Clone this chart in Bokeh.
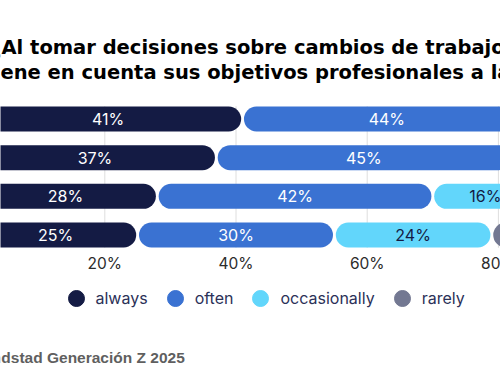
from bokeh.plotting import figure
from bokeh.models import Range1d, Label, Legend, LegendItem, ColumnDataSource
from bokeh.core.properties import value
from bokeh.embed import file_html
from bokeh.resources import INLINE

# ---- data ----
groups = ["Gen Z", "Millennials", "Gen X", "Baby boomers"]
series = ["always", "often", "occasionally", "rarely"]
always = [41, 37, 28, 25]
often = [44, 45, 42, 30]
occasionally = [11, 13, 16, 24]
rarely = [4, 5, 14, 21]
tick_values = [20, 40, 60, 80]
tick_labels = ["20%", "40%", "60%", "80%"]
title_line1 = ("¿", "Al tomar decisiones sobre cambios de trabajo,")
title_line2 = ("ti", "ene en cuenta sus objetivos profesionales a largo plazo?")
source_note = "Fuente: Randstad Generación Z 2025"

# ---- style / layout ----
W, H = 500, 380
colors = ["#141b44", "#3a72d2", "#62d6fb", "#737892"]
label_colors = ["#ffffff", "#ffffff", "#141b44", "#ffffff"]
X0, X1 = 4.10, 80.32          # visible window of the (cropped) percentage axis
Y_TOP, Y_BOT = -3.064, 6.762  # row units, row 0 at top
BAR_PX = 25
GAP_PX = 1.4
TICK_Y = 3.73
GRID_Y0, GRID_Y1 = -0.33, 3.33

px_per_pct = W / (X1 - X0)
cap = (BAR_PX / 2 + GAP_PX) / px_per_pct

p = figure(width=W, height=H, output_backend="svg", toolbar_location=None,
           x_range=Range1d(X0, X1), y_range=Range1d(Y_BOT, Y_TOP),
           x_axis_location=None, y_axis_location=None,
           min_border=0, min_border_left=0, min_border_right=0,
           min_border_top=0, min_border_bottom=0)
p.outline_line_color = None
p.background_fill_color = "white"
p.border_fill_color = "white"
p.xgrid.visible = False
p.ygrid.visible = False

# vertical grid lines
p.segment(x0=tick_values, x1=tick_values, y0=[GRID_Y0] * len(tick_values),
          y1=[GRID_Y1] * len(tick_values), line_color="#dedede", line_width=1)

# tick labels
p.text(x=tick_values, y=[TICK_Y] * len(tick_values), text=tick_labels,
       text_align="center", text_baseline="middle", text_font=value("Inter"),
       text_font_size="15.5px", text_color="#2b2b2b")

ys = list(range(len(groups)))
values = [always, often, occasionally, rarely]
left = [0] * len(groups)
items = []
for name, vals, col, tcol in zip(series, values, colors, label_colors):
    right = [l + v for l, v in zip(left, vals)]
    mid = [(l + r) / 2 for l, r in zip(left, right)]
    src = ColumnDataSource(dict(y=ys, x0=[l + cap for l in left],
                                x1=[r - cap for r in right], mid=mid,
                                label=[f"{v}%" for v in vals]))
    p.segment(x0="x0", x1="x1", y0="y", y1="y", source=src, line_color=col,
              line_width=BAR_PX, line_cap="round")
    p.text(x="mid", y="y", text="label", source=src, text_align="center",
           text_baseline="middle", text_color=tcol, text_font=value("Inter"),
           text_font_size="16px")
    # legend-only marker (not drawn in the plot)
    r = p.scatter(x=[float("nan")], y=[float("nan")], marker="circle", size=16,
                  fill_color=col, line_color=col)
    items.append(LegendItem(label=name, renderers=[r]))
    left = right

legend = Legend(items=items, orientation="horizontal", location=(55.5, 61.7),
                glyph_width=40, glyph_height=40, label_standoff=0, spacing=7,
                padding=0, margin=0, border_line_color=None, background_fill_alpha=0,
                label_text_font="Inter", label_text_font_size="16px",
                label_text_color="#2b3158")
p.add_layout(legend, "center")

# title lines (cropped like the reference)
for (pre, rest), x0, y in ((title_line1, 1, 333.3), (title_line2, 0, 308.3)):
    for txt, align in ((pre, "right"), (rest, "left")):
        p.add_layout(Label(x=x0, y=y, x_units="screen", y_units="screen", text=txt,
                           text_align=align, text_baseline="alphabetic",
                           text_font="DejaVu Sans", text_font_style="bold",
                           text_font_size="19.5px", text_color="#000000"))

p.add_layout(Label(x=184.3, y=23.3, x_units="screen", y_units="screen", text=source_note,
                   text_align="right", text_baseline="alphabetic",
                   text_font="Liberation Sans", text_font_style="bold",
                   text_font_size="15.5px", text_color="#5f5f5f"))

open("out.html", "w").write(file_html(p, INLINE))
